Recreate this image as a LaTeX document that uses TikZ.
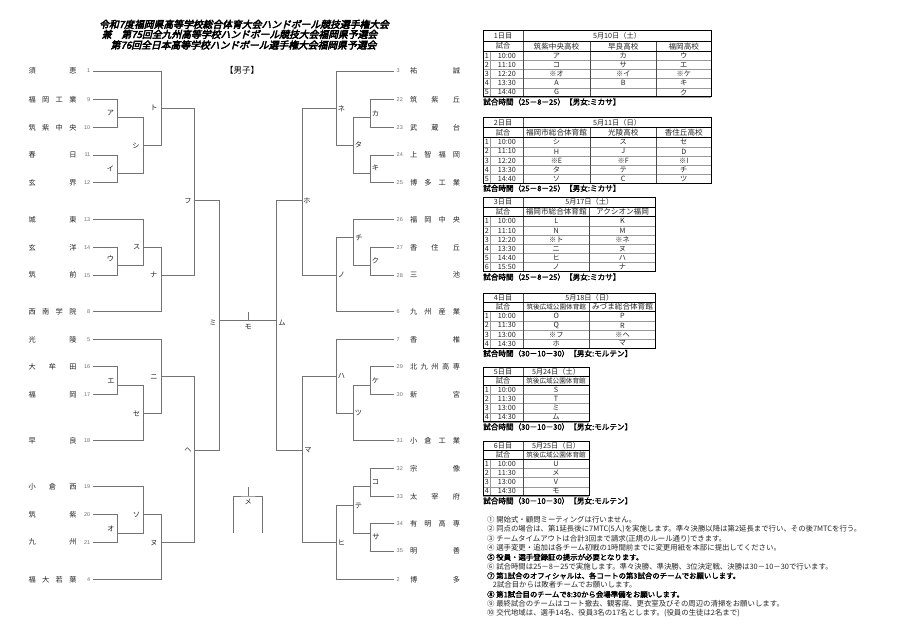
\documentclass[tikz,border=0pt]{standalone}
\usepackage{fontspec}
\setmainfont{Noto Sans CJK JP}
\newfontfamily\titlef{Noto Sans CJK JP}[FakeBold=4,FakeSlant=0.25]
\newfontfamily\boldf{Noto Sans CJK JP}[FakeBold=2]
\newfontfamily\numf{Liberation Sans}
\tikzset{
 br/.style={draw=black!55, line width=0.6pt},
 lname/.style={font=\fontsize{7.2}{8}\selectfont, inner sep=0pt, text=black!85},
 tnum/.style={font=\numf\fontsize{5.5}{6}\selectfont, inner sep=0pt, text=black!55},
 mlab/.style={font=\fontsize{7.2}{8}\selectfont, inner sep=0pt, text=black!85},
 tc/.style={font=\fontsize{7.2}{8}\selectfont, inner sep=0pt, text=black!85},
 tv/.style={font=\fontsize{7.6}{8}\selectfont, inner sep=0pt, text=black!85},
 tvs/.style={font=\fontsize{6.6}{7}\selectfont, inner sep=0pt, text=black!85},
 captxt/.style={font=\boldf\fontsize{7.6}{8}\selectfont, inner sep=0pt, anchor=west},
 note/.style={font=\fontsize{7.4}{8}\selectfont, inner sep=0pt, anchor=west, text=black!85},
 noteb/.style={font=\boldf\fontsize{7.4}{8}\selectfont, inner sep=0pt, anchor=west},
 ttl/.style={font=\titlef\fontsize{9.8}{11}\selectfont, inner sep=0pt},
 tout/.style={draw=black, line width=0.8pt},
 thead/.style={draw=black, line width=0.6pt},
 tmid/.style={draw=black!70, line width=0.5pt},
 tin/.style={draw=black!40, line width=0.35pt},
}
\newcommand\LT[4]{%
 \node[tnum, anchor=east] (ln#1) at (90.5,#2) {#3};
 \node[lname] (lt#1) at (52.5,#2) {\makebox[48pt]{#4}};
 \coordinate (t#1) at (93,#2);}
\newcommand\RT[4]{%
 \node[tnum, anchor=west] (rn#1) at (396.5,#2) {#3};
 \node[lname] (rt#1) at (435,#2) {\makebox[50pt]{#4}};
 \coordinate (t#1) at (394.3,#2);}
\newcommand\MT[8]{%
 \coordinate (#1) at (#2,#3);
 \draw[br] (#4) -| (#1);
 \draw[br] (#5) -| (#1);
 \node[mlab] (lab#1) at (#6,#7) {#8};}
% #1 top, #2 nrows, #3 inner venue lines, #4 right x, #5 header row height
\def\RH{9.12}
\newcommand\tgrid[5]{%
 \pgfmathsetmacro\tH{#1+#5}%
 \pgfmathsetmacro\tD{#1+2*#5}%
 \pgfmathsetmacro\tB{\tD+\RH*#2}%
 \xdef\tDglob{\tD}\xdef\tBglob{\tB}%
 \foreach \k in {1,...,#2}{\draw[tin] (483,\tD+\RH*\k) -- (#4,\tD+\RH*\k);}
 \draw[tin] (490.5,\tD) -- (490.5,\tB);
 \foreach \v in {#3}{\draw[tmid] (\v,\tH) -- (\v,\tB);}
 \draw[tmid] (523,#1) -- (523,\tB);
 \draw[thead] (483,\tH) -- (#4,\tH);
 \draw[thead] (483,\tD) -- (#4,\tD);
 \draw[tout] (483,#1) rectangle (#4,\tB);}
\begin{document}
\begin{tikzpicture}[x=1pt,y=-1pt]
\useasboundingbox[fill=white] (0,0) rectangle (900,636);
% title
\node[ttl] (title1) at (244,24.3) {令和7度福岡県高等学校総合体育大会ハンドボール競技選手権大会};
\node[ttl] (title2) at (239.5,34.3) {兼　第75回全九州高等学校ハンドボール競技大会福岡県予選会};
\node[ttl] (title3) at (243.5,45) {第76回全日本高等学校ハンドボール選手権大会福岡県予選会};
\node[font=\fontsize{8.5}{9}\selectfont, inner sep=0pt] (danshi) at (242,70) {【男子】};
% left teams
\LT{1}{71}{1}{須\hfill 恵}
\LT{9}{99.3}{9}{福\hfill 岡\hfill 工\hfill 業}
\LT{10}{127.3}{10}{筑\hfill 紫\hfill 中\hfill 央}
\LT{11}{155}{11}{春\hfill 日}
\LT{12}{182.5}{12}{玄\hfill 界}
\LT{13}{219.5}{13}{城\hfill 東}
\LT{14}{247.3}{14}{玄\hfill 洋}
\LT{15}{275.2}{15}{筑\hfill 前}
\LT{8}{311.7}{8}{西\hfill 南\hfill 学\hfill 院}
\LT{5}{339.3}{5}{光\hfill 陵}
\LT{16}{366.8}{16}{大\hfill 牟\hfill 田}
\LT{17}{394.5}{17}{福\hfill 岡}
\LT{18}{440.7}{18}{早\hfill 良}
\LT{19}{486.7}{19}{小\hfill 倉\hfill 西}
\LT{20}{514.3}{20}{筑\hfill 紫}
\LT{21}{542.3}{21}{九\hfill 州}
\LT{4}{579.3}{4}{福\hfill 大\hfill 若\hfill 葉}
% right teams
\RT{3}{71}{3}{祐\hfill 誠}
\RT{22}{99.3}{22}{筑\hfill 紫\hfill 丘}
\RT{23}{127.3}{23}{武\hfill 蔵\hfill 台}
\RT{24}{155}{24}{上\hfill 智\hfill 福\hfill 岡}
\RT{25}{182.5}{25}{博\hfill 多\hfill 工\hfill 業}
\RT{26}{219.5}{26}{福\hfill 岡\hfill 中\hfill 央}
\RT{27}{247.3}{27}{香\hfill 住\hfill 丘}
\RT{28}{275.2}{28}{三\hfill 池}
\RT{6}{311.7}{6}{九\hfill 州\hfill 産\hfill 業}
\RT{7}{339.3}{7}{香\hfill 椎}
\RT{29}{366.8}{29}{北\hfill 九\hfill 州\hfill 高\hfill 専}
\RT{30}{394.5}{30}{新\hfill 宮}
\RT{31}{440.7}{31}{小\hfill 倉\hfill 工\hfill 業}
\RT{32}{468.3}{32}{宗\hfill 像}
\RT{33}{496.3}{33}{太\hfill 宰\hfill 府}
\RT{34}{523.3}{34}{有\hfill 明\hfill 高\hfill 専}
\RT{35}{551}{35}{明\hfill 善}
\RT{2}{579.3}{2}{博\hfill 多}
% left bracket
\MT{mA}{117.6}{117.7}{t9}{t10}{110.5}{113.3}{ア}
\MT{mI}{117.6}{173.3}{t11}{t12}{110.5}{168.3}{イ}
\MT{mShi}{143.6}{145.7}{mA}{mI}{136}{146}{シ}
\MT{mTo}{160.8}{108.3}{t1}{mShi}{154}{108.3}{ト}
\MT{mU}{117.6}{265.7}{t14}{t15}{110.5}{259}{ウ}
\MT{mSu}{143.6}{247.3}{t13}{mU}{136.7}{246.7}{ス}
\MT{mNa}{160.8}{275.2}{mSu}{t8}{153.7}{275.2}{ナ}
\MT{mFu}{194.3}{200.7}{mTo}{mNa}{188}{200.7}{フ}
\MT{mE}{117.6}{385.7}{t16}{t17}{111}{380.7}{エ}
\MT{mSe}{143.6}{413.3}{mE}{t18}{136.5}{413.3}{セ}
\MT{mNi}{160.8}{376.7}{t5}{mSe}{154}{376.7}{ニ}
\MT{mO}{117.6}{533.3}{t20}{t21}{111}{528.3}{オ}
\MT{mSo}{143.6}{514.3}{t19}{mO}{136.5}{515}{ソ}
\MT{mNu}{160.8}{542.3}{mSo}{t4}{154}{542.7}{ヌ}
\MT{mHe}{194.3}{450}{mNi}{mNu}{188}{450}{ヘ}
\MT{mMi}{219.3}{320.7}{mFu}{mHe}{213}{322.5}{ミ}
% right bracket
\MT{mKa}{370}{117.7}{t22}{t23}{375.5}{113.3}{カ}
\MT{mKi}{370}{173.3}{t24}{t25}{375.5}{168.3}{キ}
\MT{mTa}{353.3}{145}{mKa}{mKi}{358.5}{145}{タ}
\MT{mNe}{336}{108.3}{t3}{mTa}{341.5}{108.3}{ネ}
\MT{mKu}{370}{265}{t27}{t28}{375.5}{261}{ク}
\MT{mChi}{353.3}{237.7}{t26}{mKu}{359}{237.7}{チ}
\MT{mNo}{336}{275.2}{mChi}{t6}{341.5}{275.2}{ノ}
\MT{mHo}{302.3}{200.7}{mNe}{mNo}{307}{200.7}{ホ}
\MT{mKe}{370}{385.7}{t29}{t30}{375.5}{380.7}{ケ}
\MT{mTsu}{353.3}{413.3}{mKe}{t31}{358.5}{413.3}{ツ}
\MT{mHa}{336}{376.7}{t7}{mTsu}{341.5}{376}{ハ}
\MT{mKo}{370}{486.7}{t32}{t33}{375.5}{481.7}{コ}
\MT{mSa}{370}{533.3}{t34}{t35}{376}{536.7}{サ}
\MT{mTe}{353.3}{505.7}{mKo}{mSa}{358.5}{505.7}{テ}
\MT{mHi}{336}{542.3}{mTe}{t2}{341.5}{542.3}{ヒ}
\MT{mMa}{302.3}{450}{mHa}{mHi}{308}{450}{マ}
\MT{mMu}{276.7}{320.7}{mHo}{mMa}{282}{322.5}{ム}
% final
\draw[br] (mMi) -- (mMu);
\coordinate (mMo) at (248.3,320.7);
\draw[br] (mMo) -- ++(0,-8.7);
\node[mlab] (labMo) at (248.3,326.5) {モ};
% third place
\coordinate (mMe) at (248.3,496);
\coordinate (meL) at (233.3,532.7);
\coordinate (meR) at (262.7,532.7);
\draw[br] (mMe) -- ++(0,-9.3);
\draw[br] (meL) |- (mMe) -| (meR);
\node[mlab] (labMe) at (248.3,502) {メ};
% ---------- table 1
\def\Ta{30.7}\def\Ha{10.3}
\tgrid{\Ta}{5}{590,656.5}{711}{\Ha}
\node[tc] (d1h) at (503,\Ta+\Ha/2) {1日目};
\node[tc] (d1d) at (617,\Ta+\Ha/2) {5月10日（土）};
\node[tc] (d1s) at (503,\Ta+1.5*\Ha) {試合};
\node[tv] (d1v1) at (556.5,\Ta+1.5*\Ha) {筑紫中央高校};
\node[tv] (d1v2) at (623.25,\Ta+1.5*\Ha) {早良高校};
\node[tv] (d1v3) at (683.75,\Ta+1.5*\Ha) {福岡高校};
\foreach \n/\t/\a/\b/\c [count=\i] in {1/10:00/ア/カ/ウ,2/11:10/コ/サ/エ,3/12:20/※オ/※イ/※ケ,4/13:30/A/B/キ,5/14:40/G/{}/ク}{
 \pgfmathsetmacro\yy{\Ta+2*\Ha+\RH*\i-\RH/2}
 \node[tc] (d1r\i n) at (486.75,\yy) {\n};
 \node[tc] (d1r\i t) at (506.75,\yy) {\t};
 \node[tc] (d1r\i a) at (556.5,\yy) {\a};
 \node[tc] (d1r\i b) at (623.25,\yy) {\b};
 \node[tc] (d1r\i c) at (683.75,\yy) {\c};}
\node[captxt] (d1c) at (483,\Ta+2*\Ha+5*\RH+5) {試合時間（25－8－25）【男女:ミカサ】};
% ---------- table 2
\def\Tb{117.5}\def\Hb{10.1}
\tgrid{\Tb}{5}{590,656.5}{711}{\Hb}
\node[tc] (d2h) at (503,\Tb+\Hb/2) {2日目};
\node[tc] (d2d) at (617,\Tb+\Hb/2) {5月11日（日）};
\node[tc] (d2s) at (503,\Tb+1.5*\Hb) {試合};
\node[tv] (d2v1) at (556.5,\Tb+1.5*\Hb) {福岡市総合体育館};
\node[tv] (d2v2) at (623.25,\Tb+1.5*\Hb) {光陵高校};
\node[tv] (d2v3) at (683.75,\Tb+1.5*\Hb) {香住丘高校};
\foreach \n/\t/\a/\b/\c [count=\i] in {1/10:00/シ/ス/セ,2/11:10/H/J/D,3/12:20/※E/※F/※I,4/13:30/タ/テ/チ,5/14:40/ソ/C/ツ}{
 \pgfmathsetmacro\yy{\Tb+2*\Hb+\RH*\i-\RH/2}
 \node[tc] (d2r\i n) at (486.75,\yy) {\n};
 \node[tc] (d2r\i t) at (506.75,\yy) {\t};
 \node[tc] (d2r\i a) at (556.5,\yy) {\a};
 \node[tc] (d2r\i b) at (623.25,\yy) {\b};
 \node[tc] (d2r\i c) at (683.75,\yy) {\c};}
\node[captxt] (d2c) at (483,\Tb+2*\Hb+5*\RH+5) {試合時間（25－8－25）【男女:ミカサ】};
% ---------- table 3
\def\Tc{197}\def\Hc{9.9}
\tgrid{\Tc}{6}{589.5}{655.5}{\Hc}
\node[tc] (d3h) at (503,\Tc+\Hc/2) {3日目};
\node[tc] (d3d) at (589.25,\Tc+\Hc/2) {5月17日（土）};
\node[tc] (d3s) at (503,\Tc+1.5*\Hc) {試合};
\node[tv] (d3v1) at (556.25,\Tc+1.5*\Hc) {福岡市総合体育館};
\node[tv] (d3v2) at (622.5,\Tc+1.5*\Hc) {アクシオン福岡};
\foreach \n/\t/\a/\b [count=\i] in {1/10:00/L/K,2/11:10/N/M,3/12:20/※ト/※ネ,4/13:30/ニ/ヌ,5/14:40/ヒ/ハ,6/15:50/ノ/ナ}{
 \pgfmathsetmacro\yy{\Tc+2*\Hc+\RH*\i-\RH/2}
 \node[tc] (d3r\i n) at (486.75,\yy) {\n};
 \node[tc] (d3r\i t) at (506.75,\yy) {\t};
 \node[tc] (d3r\i a) at (556.25,\yy) {\a};
 \node[tc] (d3r\i b) at (622.5,\yy) {\b};}
\node[captxt] (d3c) at (483,\Tc+2*\Hc+6*\RH+5.5) {試合時間（25－8－25）【男女:ミカサ】};
% ---------- table 4
\def\Td{293.3}\def\Hd{9.2}
\tgrid{\Td}{4}{589.5}{655.5}{\Hd}
\node[tc] (d4h) at (503,\Td+\Hd/2) {4日目};
\node[tc] (d4d) at (589.25,\Td+\Hd/2) {5月18日（日）};
\node[tc] (d4s) at (503,\Td+1.5*\Hd) {試合};
\node[tvs] (d4v1) at (556.25,\Td+1.5*\Hd) {筑後広域公園体育館};
\node[tv] (d4v2) at (622.5,\Td+1.5*\Hd) {みづま総合体育館};
\foreach \n/\t/\a/\b [count=\i] in {1/10:00/O/P,2/11:30/Q/R,3/13:00/※フ/※ヘ,4/14:30/ホ/マ}{
 \pgfmathsetmacro\yy{\Td+2*\Hd+\RH*\i-\RH/2}
 \node[tc] (d4r\i n) at (486.75,\yy) {\n};
 \node[tc] (d4r\i t) at (506.75,\yy) {\t};
 \node[tc] (d4r\i a) at (556.25,\yy) {\a};
 \node[tc] (d4r\i b) at (622.5,\yy) {\b};}
\node[captxt] (d4c) at (483,\Td+2*\Hd+4*\RH+5.3) {試合時間（30－10－30）【男女:モルテン】};
% ---------- table 5
\def\Te{367}\def\He{9.2}
\tgrid{\Te}{4}{589}{589}{\He}
\node[tc] (d5h) at (503,\Te+\He/2) {5日目};
\node[tc] (d5d) at (556,\Te+\He/2) {5月24日（土）};
\node[tc] (d5s) at (503,\Te+1.5*\He) {試合};
\node[tvs] (d5v1) at (556,\Te+1.5*\He) {筑後広域公園体育館};
\foreach \n/\t/\a [count=\i] in {1/10:00/S,2/11:30/T,3/13:00/ミ,4/14:30/ム}{
 \pgfmathsetmacro\yy{\Te+2*\He+\RH*\i-\RH/2}
 \node[tc] (d5r\i n) at (486.75,\yy) {\n};
 \node[tc] (d5r\i t) at (506.75,\yy) {\t};
 \node[tc] (d5r\i a) at (556,\yy) {\a};}
\node[captxt] (d5c) at (483,\Te+2*\He+4*\RH+5) {試合時間（30－10－30）【男女:モルテン】};
% ---------- table 6
\def\Tf{441}\def\Hf{9.2}
\tgrid{\Tf}{4}{589}{589}{\Hf}
\node[tc] (d6h) at (503,\Tf+\Hf/2) {6日目};
\node[tc] (d6d) at (556,\Tf+\Hf/2) {5月25日（日）};
\node[tc] (d6s) at (503,\Tf+1.5*\Hf) {試合};
\node[tvs] (d6v1) at (556,\Tf+1.5*\Hf) {筑後広域公園体育館};
\foreach \n/\t/\a [count=\i] in {1/10:00/U,2/11:30/メ,3/13:00/V,4/14:30/モ}{
 \pgfmathsetmacro\yy{\Tf+2*\Hf+\RH*\i-\RH/2}
 \node[tc] (d6r\i n) at (486.75,\yy) {\n};
 \node[tc] (d6r\i t) at (506.75,\yy) {\t};
 \node[tc] (d6r\i a) at (556,\yy) {\a};}
\node[captxt] (d6c) at (483,\Tf+2*\Hf+4*\RH+5) {試合時間（30－10－30）【男女:モルテン】};
% ---------- notes
\node[note] (n1) at (487,520) {① 開始式・顧問ミーティングは行いません。};
\node[note] (n2) at (487,529.3) {② 同点の場合は、第1延長後に7MTC(5人)を実施します。準々決勝以降は第2延長まで行い、その後7MTCを行う。};
\node[note] (n3) at (487,538.6) {③ チームタイムアウトは合計3回まで請求(正規のルール通り)できます。};
\node[note] (n4) at (487,547.9) {④ 選手変更・追加は各チーム初戦の1時間前までに変更用紙を本部に提出してください。};
\node[noteb] (n5) at (487,557.2) {⑤ 役員・選手登録証の提示が必要となります。};
\node[note] (n6) at (487,566.5) {⑥ 試合時間は25－8－25で実施します。準々決勝、準決勝、3位決定戦、決勝は30－10－30で行います。};
\node[noteb] (n7) at (487,575.8) {⑦ 第1試合のオフィシャルは、各コートの第3試合のチームでお願いします。};
\node[note] (n7b) at (492.7,585.1) {2試合目からは敗者チームでお願いします。};
\node[noteb] (n8) at (487,594.4) {⑧ 第1試合目のチームで8:30から会場準備をお願いします。};
\node[note] (n9) at (487,603.7) {⑨ 最終試合のチームはコート撤去、観客席、更衣室及びその周辺の清掃をお願いします。};
\node[note] (n10) at (487,613) {⑩ 交代地域は、選手14名、役員3名の17名とします。(役員の生徒は2名まで)};
\end{tikzpicture}
\end{document}
